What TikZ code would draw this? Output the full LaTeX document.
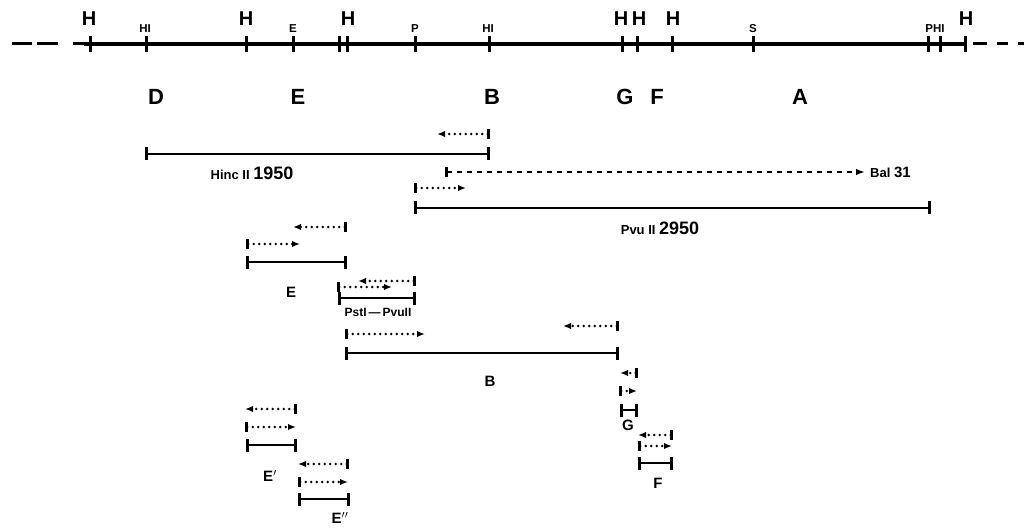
\documentclass[tikz,border=0pt]{standalone}
\usepackage{fontspec}
\setmainfont{Liberation Sans}
\usetikzlibrary{arrows.meta}
\begin{document}
\begin{tikzpicture}[x=1pt,y=-1pt,
 lab/.style={font=\bfseries\fontsize{20}{20}\selectfont, inner sep=0pt},
 slab/.style={font=\bfseries\fontsize{11.5}{11.5}\selectfont, inner sep=0pt},
 seg/.style={font=\bfseries\fontsize{22}{22}\selectfont, inner sep=0pt},
 flab/.style={font=\bfseries\fontsize{15}{15}\selectfont, inner sep=0pt},
 tickmark/.style={line width=3pt},
 mainline/.style={line width=3.4pt},
 dashend/.style={line width=3pt},
 frag/.style={line width=2.4pt, {Bar[width=13pt,line width=3pt]}-{Bar[width=13pt,line width=3pt]}},
 dotarr/.style={line width=2.8pt, line cap=round, dash pattern=on 0pt off 5.5pt, {Bar[width=10pt,line width=3pt]}-{Latex[length=8pt,width=6.5pt]}},
 dasharr/.style={line width=2.2pt, dash pattern=on 5pt off 5pt, {Bar[width=10pt,line width=3pt]}-{Latex[length=9pt,width=6.5pt]}}
]
\useasboundingbox (0,0) rectangle (1024,529);
% main map line
\coordinate (m0) at (84,44);
\coordinate (m1) at (965,44);
\draw[mainline] (m0) -- (m1);
\coordinate (dl1a) at (12,44); \coordinate (dl1b) at (32,44);
\coordinate (dl2a) at (37,44); \coordinate (dl2b) at (58,44);
\coordinate (dl3a) at (73,44); \coordinate (dl3b) at (84,44);
\coordinate (dr1a) at (973,44); \coordinate (dr1b) at (987,44);
\coordinate (dr2a) at (997,44); \coordinate (dr2b) at (1008,44);
\coordinate (dr3a) at (1018,44); \coordinate (dr3b) at (1024,44);
\draw[dashend] (dl1a) -- (dl1b) (dl2a) -- (dl2b) (dl3a) -- (dl3b)
  (dr1a) -- (dr1b) (dr2a) -- (dr2b) (dr3a) -- (dr3b);
\foreach \x in {90,146,246,293,339,347,415,489,622,637,672,753,928,940,965}
  \draw[tickmark] (\x,36) -- (\x,52);
% site labels
\node[lab] (h1) at (89,19) {H};
\node[slab] (hi1) at (145,29) {HI};
\node[lab] (h2) at (246,19) {H};
\node[slab] (e1) at (293,29) {E};
\node[lab] (h3) at (348,19) {H};
\node[slab] (p1) at (415,29) {P};
\node[slab] (hi2) at (488,29) {HI};
\node[lab] (h4) at (621,19) {H};
\node[lab] (h5) at (639,19) {H};
\node[lab] (h6) at (673,19) {H};
\node[slab] (s1) at (753,29) {S};
\node[slab] (phi) at (935,29) {PHI};
\node[lab] (h7) at (966,19) {H};
% segment letters
\node[seg] (sD) at (156,97) {D};
\node[seg] (sE) at (298,97) {E};
\node[seg] (sB) at (492,97) {B};
\node[seg] (sG) at (625,97) {G};
\node[seg] (sF) at (657,97) {F};
\node[seg] (sA) at (800,97) {A};
% HincII fragment
\coordinate (a1) at (490,134); \coordinate (a2) at (437,134);
\draw[dotarr] (a1) -- (a2);
\coordinate (hc1) at (145,154); \coordinate (hc2) at (490,154);
\draw[frag] (hc1) -- (hc2);
\node[inner sep=0pt] (hinc) at (252,173) {\bfseries\fontsize{13}{13}\selectfont Hinc II \fontsize{18}{18}\selectfont 1950};
% Bal31
\coordinate (b1) at (445,172); \coordinate (b2) at (865,172);
\draw[dasharr] (b1) -- (b2);
\node[inner sep=0pt, anchor=west] (bal) at (870,172) {\bfseries\fontsize{13}{13}\selectfont Bal \fontsize{15}{15}\selectfont 31};
% PvuII fragment
\coordinate (c1) at (414,188); \coordinate (c2) at (466,188);
\draw[dotarr] (c1) -- (c2);
\coordinate (pv1) at (414,208); \coordinate (pv2) at (931,208);
\draw[frag] (pv1) -- (pv2);
\node[inner sep=0pt] (pvu) at (660,228) {\bfseries\fontsize{13}{13}\selectfont Pvu II \fontsize{18}{18}\selectfont 2950};
% E fragment
\coordinate (d1) at (347,227); \coordinate (d2) at (293,227);
\draw[dotarr] (d1) -- (d2);
\coordinate (d3) at (246,244); \coordinate (d4) at (300,244);
\draw[dotarr] (d3) -- (d4);
\coordinate (ef1) at (246,262); \coordinate (ef2) at (347,262);
\draw[frag] (ef1) -- (ef2);
\node[flab] (lE) at (291,292) {E};
% PstI-PvuII fragment
\coordinate (f1) at (416,281); \coordinate (f2) at (358,281);
\draw[dotarr] (f1) -- (f2);
\coordinate (f3) at (337,287); \coordinate (f4) at (392,287);
\draw[dotarr] (f3) -- (f4);
\coordinate (pp1) at (338,298); \coordinate (pp2) at (416,298);
\draw[frag] (pp1) -- (pp2);
\node[inner sep=0pt] (lpp) at (378,312) {\bfseries\fontsize{12}{12}\selectfont PstI\,\textemdash\,PvuII};
% B fragment
\coordinate (g1) at (345,334); \coordinate (g2) at (425,334);
\draw[dotarr] (g1) -- (g2);
\coordinate (g3) at (619,326); \coordinate (g4) at (563,326);
\draw[dotarr] (g3) -- (g4);
\coordinate (bf1) at (345,353); \coordinate (bf2) at (619,353);
\draw[frag] (bf1) -- (bf2);
\node[flab] (lB) at (490,381) {B};
% G fragment
\coordinate (k1) at (638,373); \coordinate (k2) at (620,373);
\draw[dotarr] (k1) -- (k2);
\coordinate (k3) at (619,391); \coordinate (k4) at (637,391);
\draw[dotarr] (k3) -- (k4);
\coordinate (gf1) at (620,410); \coordinate (gf2) at (638,410);
\draw[frag] (gf1) -- (gf2);
\node[flab] (lG) at (628,425) {G};
% F fragment
\coordinate (n1) at (673,435); \coordinate (n2) at (638,435);
\draw[dotarr] (n1) -- (n2);
\coordinate (n3) at (638,446); \coordinate (n4) at (672,446);
\draw[dotarr] (n3) -- (n4);
\coordinate (ff1) at (638,463); \coordinate (ff2) at (673,463);
\draw[frag] (ff1) -- (ff2);
\node[flab] (lF) at (658,483) {F};
% E' fragment
\coordinate (q1) at (297,409); \coordinate (q2) at (245,409);
\draw[dotarr] (q1) -- (q2);
\coordinate (q3) at (245,427); \coordinate (q4) at (296,427);
\draw[dotarr] (q3) -- (q4);
\coordinate (ep1) at (246,445); \coordinate (ep2) at (297,445);
\draw[frag] (ep1) -- (ep2);
\node[flab] (lEp) at (270,476) {E$^{\prime}$};
% E'' fragment
\coordinate (r1) at (349,464); \coordinate (r2) at (298,464);
\draw[dotarr] (r1) -- (r2);
\coordinate (r3) at (298,482); \coordinate (r4) at (348,482);
\draw[dotarr] (r3) -- (r4);
\coordinate (epp1) at (298,499); \coordinate (epp2) at (350,499);
\draw[frag] (epp1) -- (epp2);
\node[flab] (lEpp) at (340,518) {E$^{\prime\prime}$};
\end{tikzpicture}
\end{document}
